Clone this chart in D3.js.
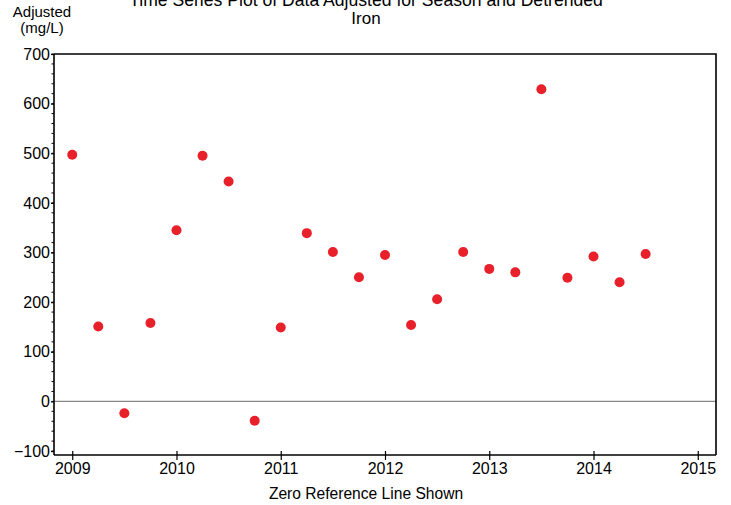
<!DOCTYPE html>
<html>
<head>
<meta charset="utf-8">
<script src="https://cdn.jsdelivr.net/npm/d3@7"></script>
<style>
  html, body { margin: 0; padding: 0; background: #fff; }
  svg { display: block; font-family: "Liberation Sans", Arial, sans-serif; }
</style>
</head>
<body>
<script>
const quarters = [2009.00, 2009.25, 2009.50, 2009.75, 2010.00, 2010.25, 2010.50, 2010.75,
                  2011.00, 2011.25, 2011.50, 2011.75, 2012.00, 2012.25, 2012.50, 2012.75,
                  2013.00, 2013.25, 2013.50, 2013.75, 2014.00, 2014.25, 2014.50];
const values = [497, 151, -24, 158, 345, 495, 443, -39,
                149, 339, 301, 250, 295, 154, 206, 301,
                267, 260, 629, 249, 292, 240, 297];
const xTickValues = [2009, 2010, 2011, 2012, 2013, 2014, 2015];
const yTickValues = [-100, 0, 100, 200, 300, 400, 500, 600, 700];
const yMinorValues = d3.range(-100, 701, 20);

(function () {
const W = 731, H = 505;
const pLeft = 54, pRight = 716, pTop = 54, pBottom = 455;
const FF = "Liberation Sans, Arial, sans-serif";

const svg = d3.select("body").append("svg").attr("width", W).attr("height", H);

const x = d3.scaleLinear().domain([2008.825, 2015.175]).range([pLeft, pRight]);
const y = d3.scaleLinear().domain([-108, 700]).range([pBottom, pTop]);

// Title
svg.append("text").attr("x", 366).attr("y", 6).attr("text-anchor", "middle")
  .attr("font-size", 17.6).attr("fill", "#000")
  .text("Time Series Plot of Data Adjusted for Season and Detrended");
svg.append("text").attr("x", 366).attr("y", 24).attr("text-anchor", "middle")
  .attr("font-size", 17).attr("fill", "#000").text("Iron");

// Y axis title
svg.append("text").attr("x", 42).attr("y", 17).attr("text-anchor", "middle")
  .attr("font-size", 15).text("Adjusted");
svg.append("text").attr("x", 42).attr("y", 33).attr("text-anchor", "middle")
  .attr("font-size", 15).text("(mg/L)");

// Zero reference line
svg.append("line").attr("x1", pLeft).attr("x2", pRight)
  .attr("y1", y(0)).attr("y2", y(0))
  .attr("stroke", "#888").attr("stroke-width", 1.2);

// Frame top and right
svg.append("path")
  .attr("d", `M${pLeft},${pTop}H${pRight}V${pBottom}`)
  .attr("fill", "none").attr("stroke", "#000").attr("stroke-width", 1.6);

// Y axis
const yAxis = d3.axisLeft(y).tickValues(yTickValues).tickSize(3).tickPadding(1)
  .tickFormat(d3.format("d"));
const gy = svg.append("g").attr("transform", `translate(${pLeft},0)`).call(yAxis);
gy.select(".domain").attr("d", `M0,${pTop}V${pBottom}`).attr("stroke-width", 1.6);
gy.selectAll(".tick text").attr("font-size", 16).attr("font-family", FF).attr("fill", "#000");
gy.selectAll(".tick line").attr("stroke-width", 1.2);
// minor ticks
svg.append("g").selectAll("line").data(yMinorValues).join("line")
  .attr("x1", pLeft - 2.5).attr("x2", pLeft)
  .attr("y1", d => y(d)).attr("y2", d => y(d))
  .attr("stroke", "#000").attr("stroke-width", 1);

// X axis
const xAxis = d3.axisBottom(x).tickValues(xTickValues).tickSize(5).tickPadding(3)
  .tickFormat(d3.format("d"));
const gx = svg.append("g").attr("transform", `translate(0,${pBottom})`).call(xAxis);
gx.select(".domain").attr("d", `M${pLeft},0H${pRight}`).attr("stroke-width", 1.6);
gx.selectAll(".tick text").attr("font-size", 16).attr("font-family", FF).attr("fill", "#000");
gx.selectAll(".tick line").attr("y1", -4).attr("stroke-width", 1.2);

// X axis title
svg.append("text").attr("x", 366).attr("y", 499).attr("text-anchor", "middle")
  .attr("font-size", 15.6).text("Zero Reference Line Shown");

// Points
svg.append("g").selectAll("circle").data(quarters).join("circle")
  .attr("cx", d => x(d))
  .attr("cy", (d, i) => y(values[i]))
  .attr("r", 5)
  .attr("fill", "#e8202a");
})();
</script>
</body>
</html>
